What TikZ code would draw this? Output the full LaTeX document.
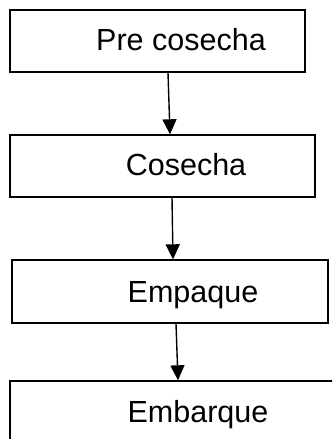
\documentclass[tikz,border=0pt]{standalone}
\usepackage{fontspec}
\setmainfont{Liberation Sans}
\usetikzlibrary{arrows.meta}

\begin{document}
\begin{tikzpicture}[x=1pt, y=-1pt,
    caja/.style={draw, line width=1.4pt, inner sep=0pt},
    etiqueta/.style={anchor=base, inner sep=0pt, font=\fontsize{30.5}{36}\selectfont},
    flecha/.style={line width=1.4pt, -{Triangle[width=14pt,length=15pt]}}]
    \useasboundingbox (0,0) rectangle (332,439);
    \clip (0,0) rectangle (332,439);

    % Draw the four stages
    \node[caja, minimum width=295pt, minimum height=62pt] (pre) at (157.5,41) {};
    \node[caja, minimum width=305pt, minimum height=62pt] (cos) at (162.5,166) {};
    \node[caja, minimum width=316pt, minimum height=63pt] (emp) at (170,291.5) {};
    \node[caja, minimum width=380pt, minimum height=80pt] (emb) at (200,421) {};

    % Label them
    \node[etiqueta] (tpre) at (181,50) {Pre cosecha};
    \node[etiqueta] (tcos) at (186,175) {Cosecha};
    \node[etiqueta] (temp) at (193,302) {Empaque};
    \node[etiqueta] (temb) at (198,422) {Embarque};

    % Arrows between stages
    \draw[flecha] ([xshift=10.5pt]pre.south) -- ([xshift=7.5pt]cos.north);
    \draw[flecha] ([xshift=9.5pt]cos.south) -- ([xshift=3pt]emp.north);
    \draw[flecha] ([xshift=6pt]emp.south) -- ([xshift=-22pt]emb.north);
\end{tikzpicture}
\end{document}
